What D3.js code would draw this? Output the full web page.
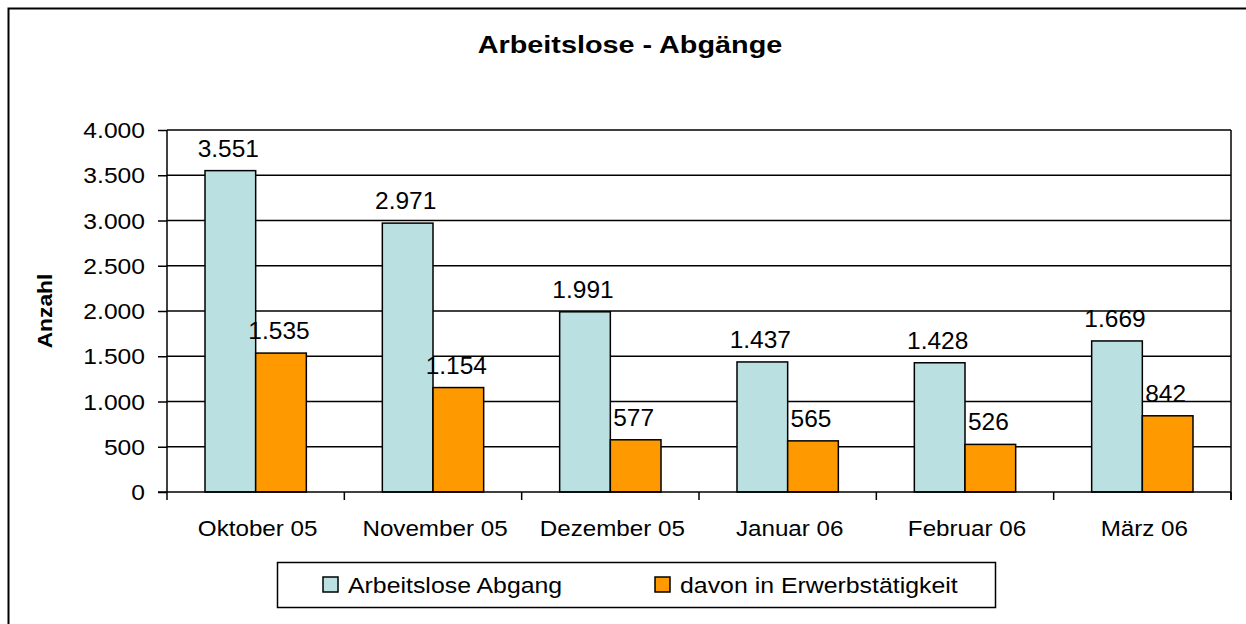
<!DOCTYPE html>
<html>
<head>
<meta charset="utf-8">
<script src="https://cdn.jsdelivr.net/npm/d3@7"></script>
<style>
  body { margin: 0; background: #fff; }
  svg text { font-family: "Liberation Sans", Arial, sans-serif; fill: #000; }
</style>
</head>
<body>
<div id="chart"></div>
<script>
// chart data
const months = ["Oktober 05", "November 05", "Dezember 05", "Januar 06", "Februar 06", "März 06"];
const seriesNames = ["Arbeitslose Abgang", "davon in Erwerbstätigkeit"];
const abgang = [3551, 2971, 1991, 1437, 1428, 1669];
const erwerb = [1535, 1154, 577, 565, 526, 842];
const yTicks = [0, 500, 1000, 1500, 2000, 2500, 3000, 3500, 4000];
const colors = ["#bae0e2", "#ff9900"];

const width = 1246, height = 624;
const plot = { left: 167, right: 1231, top: 130, bottom: 492 };
const fmt = d3.formatLocale({ decimal: ",", thousands: ".", grouping: [3] }).format(",d");

// the original chart's text is stretched sideways, so labels get a horizontal scale
const stretch = (px, py, sx) => `translate(${px},${py}) scale(${sx},1)`;

const svg = d3.select("#chart").append("svg")
    .attr("width", width)
    .attr("height", height);

// outer chart frame (runs off the bottom and right edges)
svg.append("rect")
    .attr("x", 8.5).attr("y", 8.5)
    .attr("width", 1300).attr("height", 700)
    .attr("fill", "#fff")
    .attr("stroke", "#000")
    .attr("stroke-width", 2);

const x = d3.scaleBand()
    .domain(months)
    .range([plot.left, plot.right])
    .paddingInner(1.5 / 3.5)
    .paddingOuter(0.75 / 3.5);

const xSub = d3.scaleBand()
    .domain([0, 1])
    .range([0, x.bandwidth()]);

const y = d3.scaleLinear()
    .domain([0, 4000])
    .range([plot.bottom, plot.top]);

// gridlines
svg.append("g")
    .selectAll("line")
    .data(yTicks.filter(d => d > 0))
    .join("line")
    .attr("x1", plot.left).attr("x2", plot.right)
    .attr("y1", d => y(d)).attr("y2", d => y(d))
    .attr("stroke", "#000")
    .attr("stroke-width", 1.5);

// right border of plot area
svg.append("line")
    .attr("x1", plot.right).attr("x2", plot.right)
    .attr("y1", plot.top).attr("y2", plot.bottom + 8)
    .attr("stroke", "#000")
    .attr("stroke-width", 1.5);

// bars
const rows = months.map((m, i) => ({ month: m, values: [abgang[i], erwerb[i]] }));

const groups = svg.append("g")
    .selectAll("g")
    .data(rows)
    .join("g")
    .attr("transform", d => `translate(${x(d.month)},0)`);

groups.selectAll("rect")
    .data(d => d.values.map((v, k) => ({ k, v })))
    .join("rect")
    .attr("x", d => xSub(d.k))
    .attr("y", d => y(d.v))
    .attr("width", xSub.bandwidth())
    .attr("height", d => y(0) - y(d.v))
    .attr("fill", d => colors[d.k])
    .attr("stroke", "#000")
    .attr("stroke-width", 1.5);

groups.selectAll("text")
    .data(d => d.values.map((v, k) => ({ k, v })))
    .join("text")
    .attr("transform", d => stretch(xSub(d.k) + xSub.bandwidth() / 2 - 2, y(d.v) - 14, 1.02))
    .attr("text-anchor", "middle")
    .style("font-size", "24px")
    .text(d => fmt(d.v));

// y axis line and ticks
const yAxis = svg.append("g")
    .attr("transform", `translate(${plot.left},0)`)
    .call(d3.axisLeft(y).tickValues(yTicks).tickFormat("").tickSize(9));
yAxis.select(".domain").attr("stroke", "#000").attr("stroke-width", 1.5).attr("d", `M0,${plot.top}V${plot.bottom}`);
yAxis.selectAll(".tick line").attr("stroke", "#000").attr("stroke-width", 1.5);

svg.append("g")
    .selectAll("text")
    .data(yTicks)
    .join("text")
    .attr("transform", d => stretch(plot.left - 22, y(d) + 8, 1.12))
    .attr("text-anchor", "end")
    .style("font-size", "22px")
    .text(d => fmt(d));

// x axis
const xAxis = svg.append("g")
    .attr("transform", `translate(0,${plot.bottom})`);
xAxis.append("line")
    .attr("x1", plot.left - 9).attr("x2", plot.right)
    .attr("y1", 0).attr("y2", 0)
    .attr("stroke", "#000")
    .attr("stroke-width", 1.5);
const step = x.step();
xAxis.selectAll(".xtick")
    .data(d3.range(months.length + 1))
    .join("line")
    .attr("class", "xtick")
    .attr("x1", i => plot.left + i * step).attr("x2", i => plot.left + i * step)
    .attr("y1", 0).attr("y2", 8)
    .attr("stroke", "#000")
    .attr("stroke-width", 1.5);
xAxis.selectAll("text")
    .data(months)
    .join("text")
    .attr("transform", d => stretch(x(d) + x.bandwidth() / 2 + 2, 44, 1.1))
    .attr("text-anchor", "middle")
    .style("font-size", "22px")
    .text(d => d);

// title
svg.append("text")
    .attr("transform", stretch(630, 53, 1.2))
    .attr("text-anchor", "middle")
    .style("font-size", "24px")
    .style("font-weight", "bold")
    .text("Arbeitslose - Abgänge");

// y axis title
svg.append("text")
    .attr("transform", "translate(52,311) rotate(-90) scale(1.14,1)")
    .attr("text-anchor", "middle")
    .style("font-size", "20px")
    .style("font-weight", "bold")
    .text("Anzahl");

// legend
const legend = svg.append("g");
legend.append("rect")
    .attr("x", 277.5).attr("y", 562.5)
    .attr("width", 718).attr("height", 45)
    .attr("fill", "#fff")
    .attr("stroke", "#000")
    .attr("stroke-width", 1.5);
const legendX = [323, 655];
const items = legend.selectAll("g")
    .data(seriesNames)
    .join("g")
    .attr("transform", (d, i) => `translate(${legendX[i]},577)`);
items.append("rect")
    .attr("width", 15).attr("height", 15)
    .attr("fill", (d, i) => colors[i])
    .attr("stroke", "#000")
    .attr("stroke-width", 1.5);
items.append("text")
    .attr("transform", stretch(25, 15.5, 1.13))
    .style("font-size", "22px")
    .text(d => d);
</script>
</body>
</html>
